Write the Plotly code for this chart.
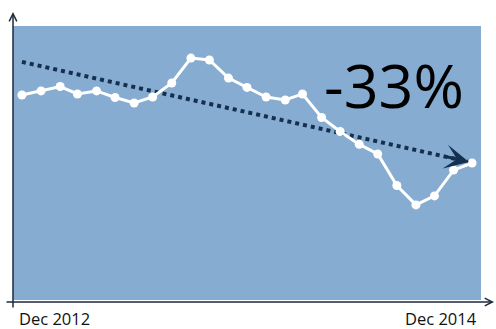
import plotly.graph_objects as go

# Data
months = ["2012-12-01", "2013-01-01", "2013-02-01", "2013-03-01", "2013-04-01",
          "2013-05-01", "2013-06-01", "2013-07-01", "2013-08-01", "2013-09-01",
          "2013-10-01", "2013-11-01", "2013-12-01", "2014-01-01", "2014-02-01",
          "2014-03-01", "2014-04-01", "2014-05-01", "2014-06-01", "2014-07-01",
          "2014-08-01", "2014-09-01", "2014-10-01", "2014-11-01", "2014-12-01"]
values = [74.8, 76.3, 77.9, 75.2, 76.3, 73.9, 71.9, 74.1, 79.2, 88.3,
          87.6, 81.0, 77.6, 74.1, 73.0, 75.2, 66.6, 61.5, 56.8, 53.3,
          41.8, 34.7, 38.0, 47.4, 50.0]
trend_x = ["2012-12-01", "2014-11-26"]
trend_y = [86.9, 50.4]
tick_labels = ["Dec 2012", "Dec 2014"]
headline = "-33%"

NAVY = "#15304f"
AXIS = "#1c2a3c"
BG = "#86acd1"

fig = go.Figure()
fig.add_trace(go.Scatter(x=trend_x, y=trend_y, mode="lines",
                         line=dict(color=NAVY, width=4, dash="dot"),
                         hoverinfo="skip", showlegend=False))
fig.add_trace(go.Scatter(x=months, y=values, mode="lines+markers",
                         line=dict(color="white", width=3),
                         marker=dict(color="white", size=9),
                         showlegend=False))

# trend arrowhead
fig.add_annotation(x=trend_x[1], y=trend_y[1], xref="x", yref="y",
                   ax=-24, ay=-5.4, axref="pixel", ayref="pixel", text="",
                   showarrow=True, arrowhead=3, arrowsize=1.35, arrowwidth=3,
                   arrowcolor=NAVY, standoff=0)

# axes with arrows
fig.add_annotation(x=0, y=1.051, xref="paper", yref="paper", text="",
                   ax=0, ay=297, axref="pixel", ayref="pixel",
                   showarrow=True, arrowhead=5, arrowsize=1, arrowwidth=1.5,
                   arrowcolor=AXIS)
fig.add_annotation(x=1.0278, y=-0.0073, xref="paper", yref="paper", text="",
                   ax=-489, ay=0, axref="pixel", ayref="pixel",
                   showarrow=True, arrowhead=5, arrowsize=1, arrowwidth=1.5,
                   arrowcolor=AXIS)

# tick labels
fig.add_annotation(x=months[0], y=0, xref="x", yref="paper", text=tick_labels[0],
                   showarrow=False, xanchor="left", yanchor="top", xshift=-5, yshift=-5,
                   font=dict(family="Open Sans", size=16.5, color="#111111"))
fig.add_annotation(x=months[-1], y=0, xref="x", yref="paper", text=tick_labels[1],
                   showarrow=False, xanchor="right", yanchor="top", xshift=7, yshift=-5,
                   font=dict(family="Open Sans", size=16.5, color="#111111"))

# headline
fig.add_annotation(x=0.814, y=0.786, xref="paper", yref="paper", text=headline,
                   showarrow=False, xanchor="center", yanchor="middle",
                   font=dict(family="Open Sans", size=61, color="black"))

fig.update_layout(
    width=496, height=329,
    margin=dict(l=13, r=15, t=26, b=29),
    paper_bgcolor="white", plot_bgcolor=BG,
    xaxis=dict(type="date", range=["2012-11-16 12:00", "2014-12-15 12:00"],
               showgrid=False, zeroline=False, showticklabels=False, ticks="",
               showline=False),
    yaxis=dict(range=[0, 100], showgrid=False, zeroline=False,
               showticklabels=False, ticks="", showline=False),
)

fig.write_html("out.html")
